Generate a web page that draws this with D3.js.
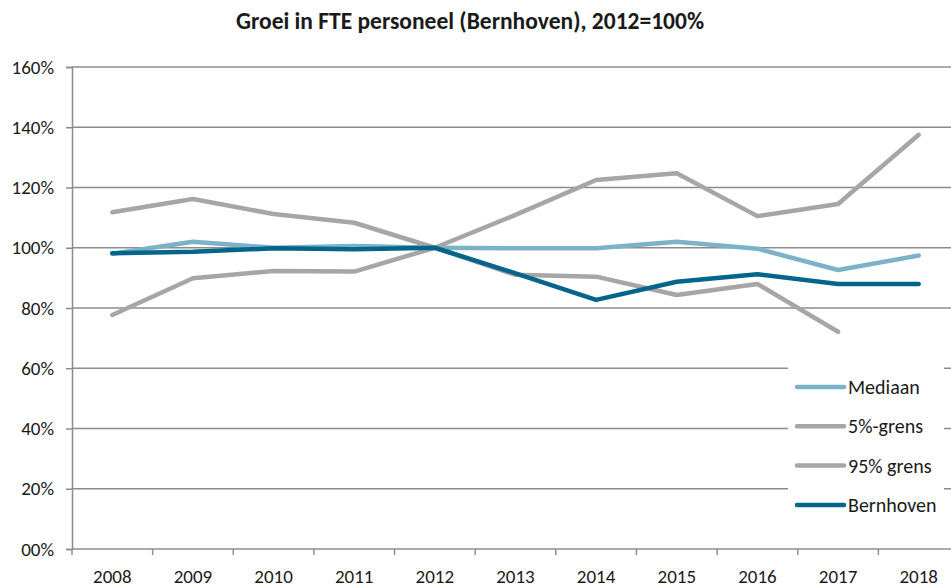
<!DOCTYPE html>
<html>
<head>
<meta charset="utf-8">
<script src="https://cdn.jsdelivr.net/npm/d3@7"></script>
<style>
  body { margin: 0; background: #fff; }
  text { font-family: Carlito, Calibri, Lato, "Open Sans", sans-serif; fill: #1a1a1a; }
</style>
</head>
<body>
<svg id="chart"></svg>
<script>
// data (2012 = 100%)
var years = ["2008","2009","2010","2011","2012","2013","2014","2015","2016","2017","2018"];
var mediaan   = [98, 102, 100, 100.6, 100, 99.8, 99.8, 102, 99.7, 92.6, 97.4];
var grens5    = [77.7, 89.9, 92.3, 92.1, 100, 91, 90.4, 84.3, 88, 72.1, null];
var grens95   = [111.8, 116.2, 111.2, 108.3, 100, 110.9, 122.5, 124.7, 110.5, 114.5, 137.5];
var bernhoven = [98.2, 98.7, 99.8, 99.5, 100, 91.5, 82.7, 88.7, 91.2, 88, 88];
var seriesNames = ["Mediaan", "5%-grens", "95% grens", "Bernhoven"];
var yTicks = [0, 20, 40, 60, 80, 100, 120, 140, 160];

var width = 951, height = 588;
var colors = ["#7cb2c8", "#a6a6a6", "#a6a6a6", "#03648c"];
var seriesData = [mediaan, grens5, grens95, bernhoven];

var svg = d3.select("svg#chart")
            .attr("width", width)
            .attr("height", height);

var x = d3.scaleBand().domain(years).range([72, 959]);
var y = d3.scaleLinear().domain([0, 160]).range([549, 67]);

// gridlines
svg.selectAll("line.grid")
   .data(yTicks.slice(1))
   .enter()
   .append("line")
   .attr("class", "grid")
   .attr("x1", 72)
   .attr("x2", width)
   .attr("y1", function(d){ return y(d); })
   .attr("y2", function(d){ return y(d); })
   .attr("stroke", "#8c8c8c")
   .attr("stroke-width", 1.5);

// y axis
var yAxis = svg.append("g")
   .attr("transform", "translate(72,0)")
   .call(d3.axisLeft(y).tickValues(yTicks).tickSize(6)
     .tickFormat(function(d){ return (d < 10 ? "0" : "") + d + "%"; }));
yAxis.select(".domain").attr("stroke", "#8c8c8c").attr("stroke-width", 1.5);
yAxis.selectAll(".tick line").attr("stroke", "#8c8c8c").attr("stroke-width", 1.5);
yAxis.selectAll(".tick text")
     .attr("x", -18)
     .attr("font-size", 19)
     .attr("font-family", "Carlito, Calibri, Lato, sans-serif")
     .attr("fill", "#1a1a1a");

// x axis: ticks between categories
var xAxis = svg.append("g").attr("transform", "translate(0,549)");
xAxis.append("line")
     .attr("x1", 72).attr("x2", width)
     .attr("stroke", "#8c8c8c").attr("stroke-width", 1.5);
xAxis.selectAll("line.tick")
     .data(years)
     .enter()
     .append("line")
     .attr("class", "tick")
     .attr("x1", function(d){ return x(d); })
     .attr("x2", function(d){ return x(d); })
     .attr("y1", 0).attr("y2", 6)
     .attr("stroke", "#8c8c8c").attr("stroke-width", 1.5);
xAxis.selectAll("text")
     .data(years)
     .enter()
     .append("text")
     .text(function(d){ return d; })
     .attr("x", function(d){ return x(d) + x.bandwidth()/2; })
     .attr("y", 34)
     .attr("text-anchor", "middle")
     .attr("font-size", 19);

// lines
var line = d3.line()
   .defined(function(d){ return d != null; })
   .x(function(d, i){ return x(years[i]) + x.bandwidth()/2; })
   .y(function(d){ return y(d); });

svg.selectAll("path.series")
   .data(seriesData)
   .enter()
   .append("path")
   .attr("class", "series")
   .attr("d", function(d){ return line(d); })
   .attr("fill", "none")
   .attr("stroke", function(d, i){ return colors[i]; })
   .attr("stroke-width", 4.5)
   .attr("stroke-linejoin", "round")
   .attr("stroke-linecap", "round");

// legend
var legend = svg.append("g");
legend.append("rect")
      .attr("x", 788).attr("y", 360)
      .attr("width", 156).attr("height", 168)
      .attr("fill", "#fff");
var rows = legend.selectAll("g.row")
      .data(seriesNames)
      .enter()
      .append("g")
      .attr("class", "row")
      .attr("transform", function(d, i){ return "translate(0," + (387 + i*39.3) + ")"; });
rows.append("line")
    .attr("x1", 797).attr("x2", 844)
    .attr("stroke", function(d, i){ return colors[i]; })
    .attr("stroke-width", 4.5)
    .attr("stroke-linecap", "round");
rows.append("text")
    .text(function(d){ return d; })
    .attr("x", 848)
    .attr("y", 7)
    .attr("font-size", 20);

// title
svg.append("text")
   .text("Groei in FTE personeel (Bernhoven), 2012=100%")
   .attr("x", 470)
   .attr("y", 29)
   .attr("text-anchor", "middle")
   .attr("font-size", 23.5)
   .attr("font-weight", "bold");
</script>
</body>
</html>
